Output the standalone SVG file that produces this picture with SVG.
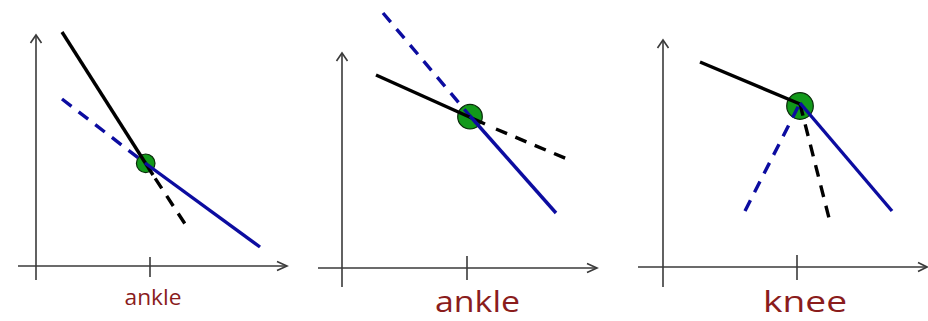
<svg xmlns="http://www.w3.org/2000/svg" width="928" height="321" viewBox="0 0 928 321">
<style>
.axis{stroke:#3a3a3a;stroke-width:1.6;fill:none}
.tick{stroke:#3a3a3a;stroke-width:1.6}
.blk{stroke:#000;stroke-width:3.4;fill:none;stroke-linecap:butt}
.blu{stroke:#0c0ca0;stroke-width:3.4;fill:none;stroke-linecap:butt}
.dash{stroke-dasharray:12 9}
.dot{fill:#12991a;stroke:#0a2a0a;stroke-width:1.2}
.lbl{fill:#8a1c1c;font-family:"Open Sans","Liberation Sans",sans-serif;text-anchor:middle}
</style>
<rect width="928" height="321" fill="#fff"/>
<g id="panel1">
  <g id="axes1">
    <line class="axis" x1="36" y1="280" x2="36" y2="35"/>
    <path class="axis" d="M30.5,43 L36,35 L41.5,43"/>
    <line class="axis" x1="18" y1="266" x2="287" y2="266"/>
    <path class="axis" d="M277,261.5 L287,266 L277,270.5"/>
    <line class="tick" x1="150" y1="257" x2="150" y2="277"/>
  </g>
  <g id="joint1"><circle class="dot" cx="145.7" cy="163.3" r="9.3"/></g>
  <g id="lines1">
    <line class="blu dash" x1="62" y1="99" x2="145" y2="163" stroke-dasharray="13 9"/>
    <line class="blk" x1="62" y1="32" x2="153" y2="175"/>
    <line class="blk dash" x1="153" y1="175" x2="189" y2="230" stroke-dasharray="11 8" stroke-dashoffset="-4"/>
    <line class="blu" x1="145" y1="163" x2="260" y2="247"/>
  </g>
  <text id="label1" class="lbl" x="153" y="305" font-size="22" textLength="57" lengthAdjust="spacingAndGlyphs">ankle</text>
</g>
<g id="panel2">
  <g id="axes2">
    <line class="axis" x1="342" y1="287" x2="342" y2="53"/>
    <path class="axis" d="M336.5,61 L342,53 L347.5,61"/>
    <line class="axis" x1="318" y1="268" x2="597" y2="268"/>
    <path class="axis" d="M587,263.5 L597,268 L587,272.5"/>
    <line class="tick" x1="467" y1="256" x2="467" y2="280"/>
  </g>
  <g id="joint2"><circle class="dot" cx="470" cy="116.7" r="12.3"/></g>
  <g id="lines2">
    <line class="blu dash" x1="383" y1="13" x2="470" y2="116" stroke-width="4" stroke-dasharray="15 11"/>
    <line class="blk" x1="376" y1="75" x2="485" y2="124" stroke-width="4"/>
    <line class="blk dash" x1="496" y1="129" x2="566" y2="158.5" stroke-width="4" stroke-dasharray="14 12"/>
    <line class="blu" x1="470" y1="116" x2="556" y2="213" stroke-width="4"/>
  </g>
  <text id="label2" class="lbl" x="477.5" y="312" font-size="30" textLength="85" lengthAdjust="spacingAndGlyphs">ankle</text>
</g>
<g id="panel3">
  <g id="axes3">
    <line class="axis" x1="663" y1="287" x2="663" y2="40"/>
    <path class="axis" d="M657.5,48 L663,40 L668.5,48"/>
    <line class="axis" x1="638" y1="267" x2="927" y2="267"/>
    <path class="axis" d="M918,262.5 L927,267 L918,271.5"/>
    <line class="tick" x1="797" y1="255" x2="797" y2="280"/>
  </g>
  <g id="joint3"><circle class="dot" cx="800" cy="106" r="13.3"/></g>
  <g id="lines3">
    <line class="blk" x1="700" y1="62" x2="800" y2="104" stroke-width="4"/>
    <line class="blk dash" x1="800" y1="104" x2="829.5" y2="220" stroke-width="4" stroke-dasharray="16 11"/>
    <line class="blu dash" x1="745" y1="211" x2="800" y2="103" stroke-width="4" stroke-dasharray="16 11"/>
    <line class="blu" x1="800" y1="103" x2="892" y2="211" stroke-width="4"/>
  </g>
  <text id="label3" class="lbl" x="805" y="312" font-size="30" textLength="84" lengthAdjust="spacingAndGlyphs">knee</text>
</g>
</svg>
